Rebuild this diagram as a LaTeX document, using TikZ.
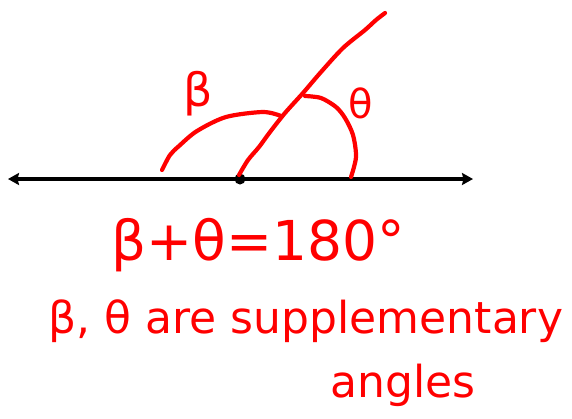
\documentclass[tikz,border=0pt]{standalone}
\usepackage{fontspec}
\setmainfont{DejaVu Sans}
\usepackage{tikz}
\usetikzlibrary{arrows.meta,positioning}

\begin{document}
\begin{tikzpicture}[
  x=1pt, y=-1pt,
  ink/.style={
    draw=red,
    line width=4.2pt,
    line cap=round,
    line join=round
  },
  axis/.style={
    draw=black,
    line width=4pt,
    {Stealth[length=11pt,width=12pt,inset=1.5pt]}-{Stealth[length=11pt,width=12pt,inset=1.5pt]}
  },
  lbl/.style={
    text=red,
    inner sep=0pt
  }
]
\useasboundingbox (0,0) rectangle (572,418);

% straight line with the vertex
\coordinate (west) at (8,179);
\coordinate (east) at (473,179);
\node[circle, fill=black, inner sep=0pt, minimum size=11pt] (vertex) at (240,179) {};
\draw[axis] (west) -- (east);

% ray and the two arcs
\draw[ink] plot[smooth] coordinates {(239,175) (248,160) (259,147) (270,132) (285,113)
  (303,93) (321,72) (343,48) (365,30) (376,20) (385,13)};
\draw[ink] plot[smooth] coordinates {(162,170) (170,155) (179,146) (197,131) (226,117)
  (263,112) (281,116)};
\draw[ink] plot[smooth] coordinates {(305,96) (321,98) (336,107) (345,118) (353,135)
  (356,157) (351,177)};

% angle names
\node[lbl, font=\fontsize{46}{50}\selectfont] (beta) at (198,94) {β};
\node[lbl, font=\fontsize{40}{44}\selectfont] (theta) at (361,103) {θ};

% the sum and the statement
\node[lbl, anchor=base, font=\fontsize{55}{60}\selectfont] (sum) at (258,260) {β+θ=180°};
\node[lbl, anchor=base, font=\fontsize{44}{50}\selectfont] (state) at (306,333) {β, θ are supplementary};
\node[lbl, anchor=base, font=\fontsize{44}{50}\selectfont] (angles) at (403,397) {angles};
\end{tikzpicture}
\end{document}
